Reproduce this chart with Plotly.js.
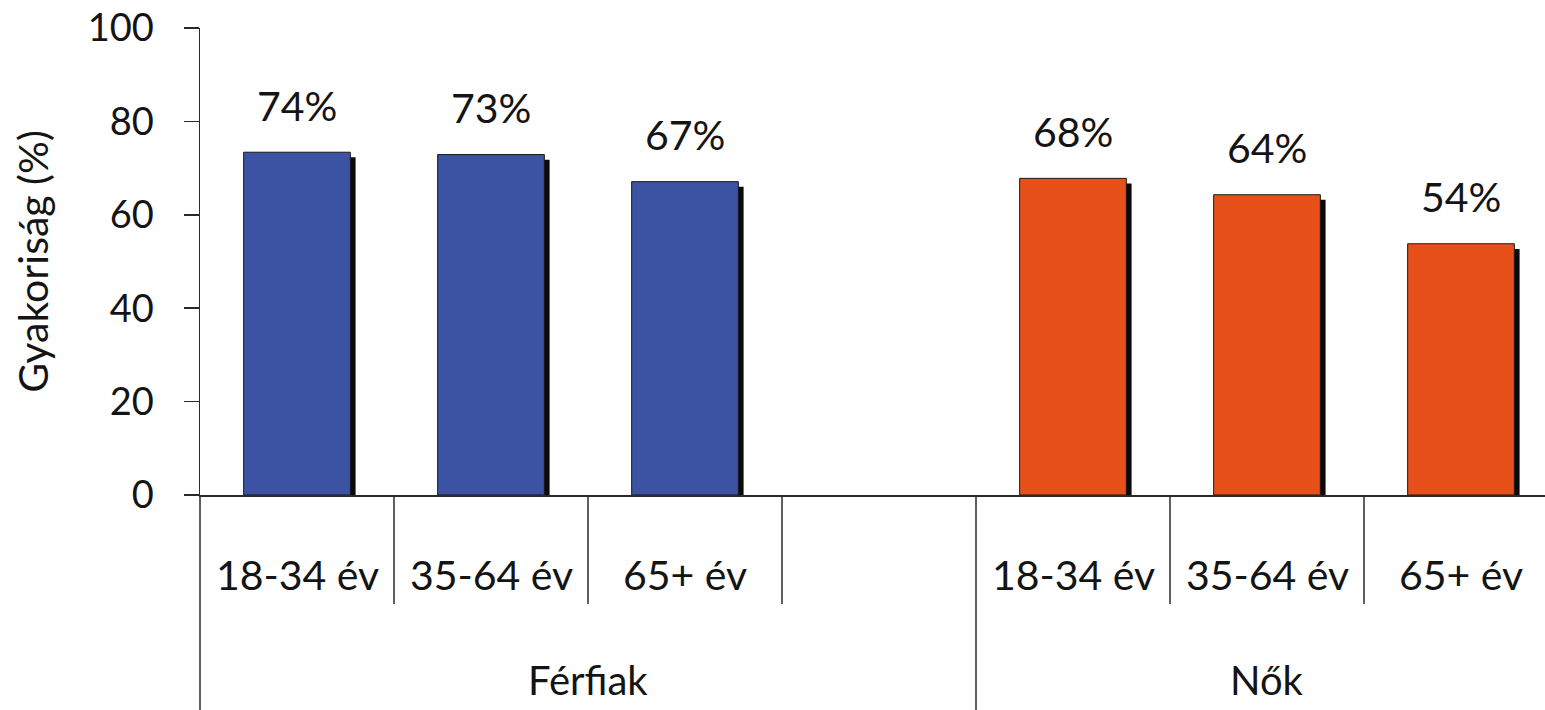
<!DOCTYPE html>
<html>
<head>
<meta charset="utf-8">
<script src="https://cdn.plot.ly/plotly-3.0.1.min.js"></script>
<style>html,body{margin:0;padding:0;background:#fff;}#chart{width:1545px;height:710px;}</style>
</head>
<body>
<div id="chart"></div>
<script>
// ---- data ----
const groups = ['Férfiak', 'Nők'];
const ages = ['18-34 év', '35-64 év', '65+ év'];
const ferfiakValues = [73.4, 72.9, 67.1];
const nokValues = [67.8, 64.3, 53.8];
const ferfiakLabels = ['74%', '73%', '67%'];
const nokLabels = ['68%', '64%', '54%'];
const yTickVals = [0, 20, 40, 60, 80, 100];

// ---- categories (one blank slot closes the Férfiak group) ----
const blankSlot = 'Férfiak|';
const ferfiakCats = ages.map(a => 'Férfiak|' + a);
const nokCats = ages.map(a => 'Nők|' + a);
const slots = [...ferfiakCats, blankSlot, ...nokCats];

const FONT = 'Lato, "Open Sans", sans-serif';
const TXT = '#141414';
const LINE = '#2a2a2a';
const barWidth = 0.55;
const shadowDx = 0.027;   // ~5 px to the right
const shadowDy = 1.1;     // ~5 px lower

function shadowTrace(cats, vals) {
  return {
    type: 'bar', x: cats, y: vals.map(v => v - shadowDy),
    width: barWidth, offset: -barWidth / 2 + shadowDx,
    marker: {color: '#0a0a0a', line: {width: 0}},
    hoverinfo: 'skip', showlegend: false
  };
}
function mainTrace(name, cats, vals, color) {
  return {
    type: 'bar', name: name, x: cats, y: vals,
    width: barWidth, offset: -barWidth / 2,
    marker: {color: color, line: {color: '#1a1a1a', width: 1}},
    showlegend: false
  };
}

const data = [
  shadowTrace(ferfiakCats, ferfiakValues),
  shadowTrace(nokCats, nokValues),
  mainTrace('Férfiak', ferfiakCats, ferfiakValues, '#3B53A2'),
  mainTrace('Nők', nokCats, nokValues, '#E8501A')
];

const W = 1545, H = 710, ML = 200, MT = 28, MB = 215;
const slotPx = 194;
const xRange = [-0.5, -0.5 + (W - ML) / slotPx];
const plotH = H - MT - MB;
const pxToPaperY = px => (H - MB - px) / plotH;

const annotations = [];
// data labels
[[ferfiakCats, ferfiakValues, ferfiakLabels], [nokCats, nokValues, nokLabels]].forEach(([cats, vals, labs]) => {
  cats.forEach((c, i) => annotations.push({
    x: c, y: vals[i], xref: 'x', yref: 'y', text: labs[i], showarrow: false,
    yanchor: 'middle', yshift: 47, font: {family: FONT, size: 41, color: TXT}
  }));
});
// age labels
[...ferfiakCats, ...nokCats].forEach(c => annotations.push({
  x: c, xref: 'x', y: pxToPaperY(574), yref: 'paper', text: c.split('|')[1], showarrow: false,
  yanchor: 'middle', font: {family: FONT, size: 41, color: TXT}
}));
// group labels
const groupCenters = [1.5, 5];
groups.forEach((g, i) => annotations.push({
  x: groupCenters[i], xref: 'x', y: pxToPaperY(680), yref: 'paper', text: g, showarrow: false,
  yanchor: 'middle', font: {family: FONT, size: 40, color: TXT}
}));

const shapes = [];
// extension of y axis below the plot
shapes.push({type: 'line', xref: 'paper', yref: 'paper', x0: 0, x1: 0, y0: 0, y1: pxToPaperY(H),
  line: {color: LINE, width: 1.5}});
// sub-category separators
[0.5, 1.5, 2.5, 4.5, 5.5].forEach(x => shapes.push({
  type: 'line', xref: 'x', yref: 'paper', x0: x, x1: x, y0: 0, y1: pxToPaperY(604),
  line: {color: LINE, width: 1.5}
}));
// group divider
shapes.push({type: 'line', xref: 'x', yref: 'paper', x0: 3.5, x1: 3.5, y0: 0, y1: pxToPaperY(H),
  line: {color: LINE, width: 1.5}});

const layout = {
  width: W, height: H,
  margin: {l: ML, r: 0, t: MT, b: MB, pad: 0},
  paper_bgcolor: '#fff', plot_bgcolor: '#fff',
  barmode: 'overlay',
  font: {family: FONT, color: TXT},
  xaxis: {
    type: 'category', categoryorder: 'array', categoryarray: slots,
    range: xRange, showticklabels: false, ticks: '', showgrid: false, zeroline: false,
    showline: true, linecolor: LINE, linewidth: 1.5, fixedrange: true
  },
  yaxis: {
    range: [0, 100], tickvals: yTickVals, ticks: 'outside', ticklen: 15, tickwidth: 1.5, tickcolor: LINE,
    ticklabelstandoff: 22,
    tickfont: {family: FONT, size: 38, color: TXT},
    showgrid: false, zeroline: false, showline: true, linecolor: LINE, linewidth: 1.5,
    title: {text: 'Gyakoriság (%)', font: {family: FONT, size: 41, color: TXT}, standoff: 26},
    automargin: false, fixedrange: true
  },
  annotations: annotations,
  shapes: shapes
};

Plotly.newPlot('chart', data, layout, {displayModeBar: false, staticPlot: true});
</script>
</body>
</html>
